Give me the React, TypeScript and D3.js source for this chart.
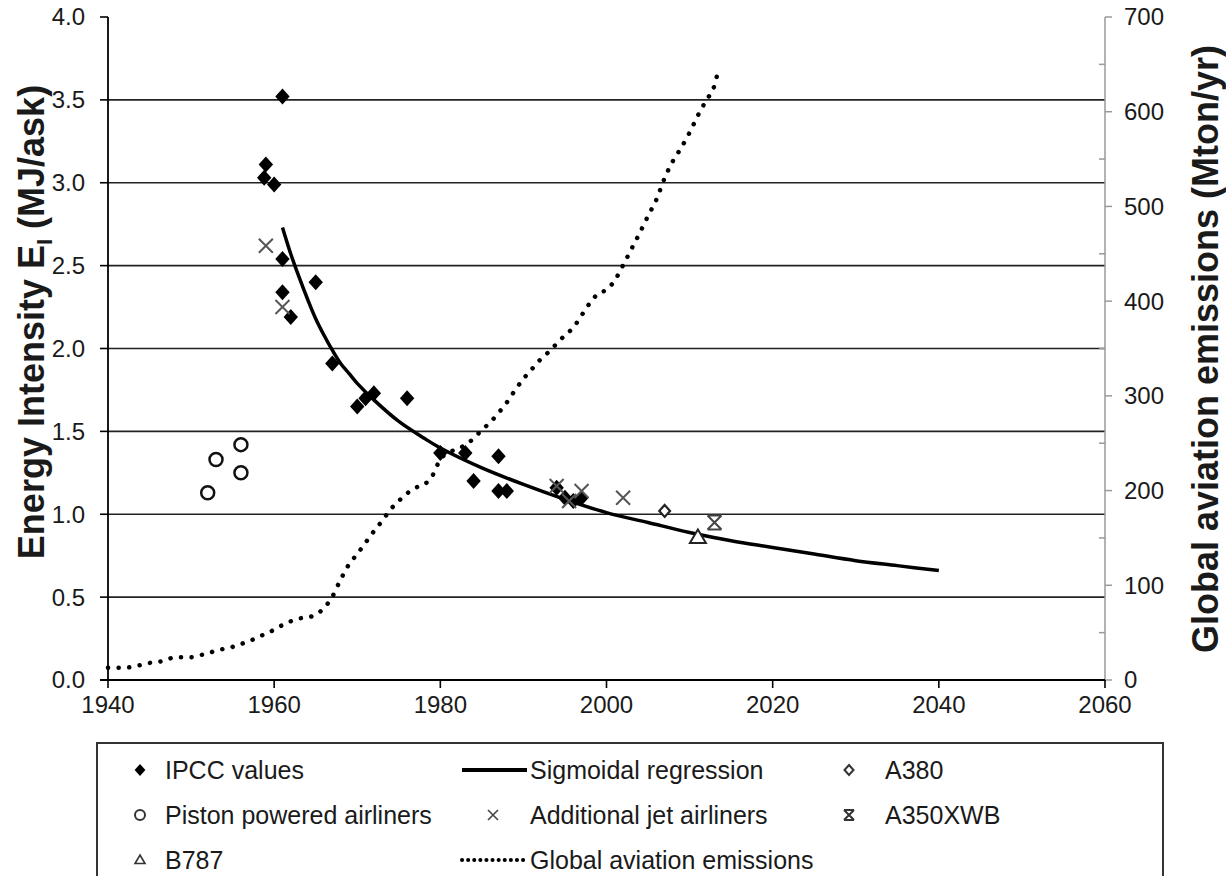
import React from "react";
import * as d3 from "d3";

const xTicks = [1940, 1960, 1980, 2000, 2020, 2040, 2060];
const leftTicks = [0, 0.5, 1, 1.5, 2, 2.5, 3, 3.5, 4];
const rightTicks = [0, 100, 200, 300, 400, 500, 600, 700];
const gridValues = [0.5, 1, 1.5, 2, 2.5, 3, 3.5];

const ipcc: [number, number][] = [
  [1961, 3.52], [1959, 3.11], [1958.8, 3.03], [1960, 2.99], [1961, 2.54], [1961, 2.34],
  [1962, 2.19], [1965, 2.4], [1967, 1.91], [1970, 1.65], [1971, 1.7], [1972, 1.73],
  [1976, 1.7], [1980, 1.37], [1983, 1.37], [1984, 1.2], [1987, 1.35], [1987, 1.14],
  [1988, 1.14], [1994, 1.16], [1995, 1.1], [1996, 1.08], [1997, 1.1],
];
const piston: [number, number][] = [
  [1956, 1.42], [1953, 1.33], [1956, 1.25], [1952, 1.13],
];
const jets: [number, number][] = [
  [1959, 2.62], [1961, 2.25], [1994, 1.17], [1995.5, 1.08], [1997, 1.14], [2002, 1.1],
];
const a380: [number, number][] = [[2007, 1.02]];
const b787: [number, number][] = [[2011, 0.86]];
const a350: [number, number][] = [[2013, 0.95]];

const regression: [number, number][] = [
  [1961, 2.73], [1962, 2.57], [1963, 2.43], [1964, 2.3], [1965, 2.18], [1966, 2.08],
  [1967, 1.99], [1968, 1.91], [1969, 1.85], [1970, 1.79], [1972, 1.69], [1975, 1.56],
  [1978, 1.46], [1980, 1.4], [1985, 1.28], [1990, 1.18], [1995, 1.09], [2000, 1.01],
  [2005, 0.95], [2010, 0.89], [2015, 0.84], [2020, 0.8], [2025, 0.76], [2030, 0.72],
  [2035, 0.69], [2040, 0.66],
];

const emissions: [number, number][] = [
  [1940, 13], [1941, 13], [1942, 13], [1943, 14], [1944, 16], [1945, 18], [1946, 19],
  [1947, 21], [1948, 24], [1949, 24], [1950, 24], [1951, 26], [1952, 28], [1953, 31],
  [1954, 33], [1955, 35], [1956, 38], [1957, 41], [1958, 45], [1959, 49], [1960, 53],
  [1961, 58], [1962, 62], [1963, 65], [1964, 66], [1965, 69], [1966, 76], [1967, 88],
  [1968, 106], [1969, 122], [1970, 133], [1971, 145], [1972, 157], [1973, 168],
  [1974, 180], [1975, 189], [1976, 197], [1977, 203], [1978, 206], [1979, 215],
  [1980, 233], [1981, 240], [1982, 244], [1983, 248], [1984, 255], [1985, 264],
  [1986, 272], [1987, 282], [1988, 293], [1989, 306], [1990, 318], [1991, 328],
  [1992, 338], [1993, 346], [1994, 355], [1995, 364], [1996, 372], [1997, 385],
  [1998, 398], [1999, 408], [2000, 412], [2001, 422], [2002, 438], [2003, 455],
  [2004, 472], [2005, 490], [2006, 507], [2007, 530], [2008, 548], [2009, 562],
  [2010, 578], [2011, 596], [2012, 612], [2013, 628], [2013.4, 642],
];

const FONT = "'Liberation Sans', Arial, sans-serif";
const TXT = "#1a1a1a";

const L = 108, R = 1105, T = 17, B = 680;

function Diamond({ x, y, s = 8, fill = "#000", stroke = "none", sw = 0 }: any) {
  return (
    <path
      d={`M${x},${y - s}L${x + s * 0.9},${y}L${x},${y + s}L${x - s * 0.9},${y}Z`}
      fill={fill}
      stroke={stroke}
      strokeWidth={sw}
    />
  );
}
function Cross({ x, y, s = 7, color = "#555", sw = 2 }: any) {
  return (
    <path
      d={`M${x - s},${y - s}L${x + s},${y + s}M${x - s},${y + s}L${x + s},${y - s}`}
      stroke={color}
      strokeWidth={sw}
      fill="none"
    />
  );
}
function Star({ x, y, s = 7, color = "#444", sw = 2 }: any) {
  return (
    <path
      d={`M${x - s},${y - s}L${x + s},${y + s}M${x - s},${y + s}L${x + s},${y - s}M${x - s},${y - s}L${x + s},${y - s}M${x - s},${y + s}L${x + s},${y + s}`}
      stroke={color}
      strokeWidth={sw}
      fill="none"
    />
  );
}
function Tri({ x, y, s = 8, color = "#222", sw = 2 }: any) {
  return (
    <path
      d={`M${x},${y - s}L${x + s},${y + s * 0.7}L${x - s},${y + s * 0.7}Z`}
      stroke={color}
      strokeWidth={sw}
      fill="#fff"
    />
  );
}

export default function App() {
  const x = d3.scaleLinear().domain([1940, 2060]).range([L, R]);
  const yL = d3.scaleLinear().domain([0, 4]).range([B, T]);
  const yR = d3.scaleLinear().domain([0, 700]).range([B, T]);

  const regLine = d3
    .line<[number, number]>()
    .x((d) => x(d[0]))
    .y((d) => yL(d[1]))
    .curve(d3.curveCatmullRom);
  const emLine = d3
    .line<[number, number]>()
    .x((d) => x(d[0]))
    .y((d) => yR(d[1]))
    .curve(d3.curveMonotoneX);

  const rightMinor = d3.range(50, 700, 100);

  return (
    <svg
      width={1226}
      height={876}
      style={{ position: "absolute", left: 0, top: 0, background: "#fff" }}
      fontFamily={FONT}
    >
      <rect x={0} y={0} width={1226} height={876} fill="#fff" />
      {gridValues.map((v) => (
        <line key={v} x1={L} x2={R} y1={yL(v)} y2={yL(v)} stroke="#222" strokeWidth={1.6} />
      ))}

      {/* right axis */}
      <line x1={R} x2={R} y1={T} y2={B} stroke="#9a9a9a" strokeWidth={1.5} />
      {rightTicks.map((v) => (
        <g key={v}>
          <line x1={R} x2={R + 7} y1={yR(v)} y2={yR(v)} stroke="#9a9a9a" strokeWidth={1.5} />
          <text x={R + 19} y={yR(v)} dy="0.35em" fontSize={24} fill={TXT}>
            {v}
          </text>
        </g>
      ))}
      {rightMinor.map((v) => (
        <line key={v} x1={R - 6} x2={R} y1={yR(v)} y2={yR(v)} stroke="#9a9a9a" strokeWidth={1.5} />
      ))}

      {/* left axis */}
      <line x1={L} x2={L} y1={T} y2={B} stroke="#000" strokeWidth={1.8} />
      {leftTicks.map((v) => (
        <g key={v}>
          <line x1={L - 8} x2={L} y1={yL(v)} y2={yL(v)} stroke="#000" strokeWidth={1.6} />
          <text x={L - 23} y={yL(v)} dy="0.35em" fontSize={24} textAnchor="end" fill={TXT}>
            {v.toFixed(1)}
          </text>
        </g>
      ))}

      {/* bottom axis */}
      <line x1={L - 8} x2={R} y1={B} y2={B} stroke="#000" strokeWidth={1.8} />
      {xTicks.map((v) => (
        <g key={v}>
          <line x1={x(v)} x2={x(v)} y1={B} y2={B + 8} stroke="#000" strokeWidth={1.6} />
          <text x={x(v)} y={B + 33} fontSize={24} textAnchor="middle" fill={TXT}>
            {v}
          </text>
        </g>
      ))}

      {/* emissions dotted line */}
      <path
        d={emLine(emissions) || ""}
        fill="none"
        stroke="#000"
        strokeWidth={4.5}
        strokeDasharray="0.1 10.5"
        strokeLinecap="round"
      />

      {/* regression */}
      <path d={regLine(regression) || ""} fill="none" stroke="#000" strokeWidth={3.5} />

      {/* markers */}
      {piston.map((d, i) => (
        <circle key={"p" + i} cx={x(d[0])} cy={yL(d[1])} r={6.5} fill="none" stroke="#111" strokeWidth={2.5} />
      ))}
      {ipcc.map((d, i) => (
        <Diamond key={"i" + i} x={x(d[0])} y={yL(d[1])} />
      ))}
      {jets.map((d, i) => (
        <Cross key={"j" + i} x={x(d[0])} y={yL(d[1])} />
      ))}
      {a380.map((d, i) => (
        <Diamond key={"a" + i} x={x(d[0])} y={yL(d[1])} s={6} fill="#fff" stroke="#222" sw={2.2} />
      ))}
      {b787.map((d, i) => (
        <Tri key={"b" + i} x={x(d[0])} y={yL(d[1])} />
      ))}
      {a350.map((d, i) => (
        <Star key={"s" + i} x={x(d[0])} y={yL(d[1])} />
      ))}

      {/* axis titles */}
      <text
        transform={`translate(44,322) rotate(-90)`}
        textAnchor="middle"
        fontSize={36}
        fontWeight="bold"
        fill={TXT}
      >
        Energy Intensity E<tspan fontSize={22} dy={8}>I</tspan>
        <tspan dy={-8}> (MJ/ask)</tspan>
      </text>
      <text
        transform={`translate(1218,349) rotate(-90)`}
        textAnchor="middle"
        fontSize={36}
        fontWeight="bold"
        fill={TXT}
      >
        Global aviation emissions (Mton/yr)
      </text>

      {/* legend */}
      <rect x={97} y={743} width={1066} height={160} fill="#fff" stroke="#333" strokeWidth={2} />
      <g fontSize={25} fill={TXT}>
        <Diamond x={140} y={770} s={6} />
        <text x={165} y={770} dy="0.35em">IPCC values</text>
        <line x1={462} x2={527} y1={770} y2={770} stroke="#000" strokeWidth={4} />
        <text x={530} y={770} dy="0.35em">Sigmoidal regression</text>
        <Diamond x={849} y={770} s={5} fill="#fff" stroke="#333" sw={2} />
        <text x={885} y={770} dy="0.35em">A380</text>

        <circle cx={140} cy={815} r={5} fill="none" stroke="#333" strokeWidth={2} />
        <text x={165} y={815} dy="0.35em">Piston powered airliners</text>
        <Cross x={493} y={815} s={5} color="#444" sw={1.6} />
        <text x={530} y={815} dy="0.35em">Additional jet airliners</text>
        <Star x={849} y={815} s={5} color="#333" sw={2} />
        <text x={885} y={815} dy="0.35em">A350XWB</text>

        <Tri x={140} y={860} s={5} color="#333" sw={1.6} />
        <text x={165} y={860} dy="0.35em">B787</text>
        <line x1={462} x2={527} y1={860} y2={860} stroke="#000" strokeWidth={4} strokeDasharray="0.1 6" strokeLinecap="round" />
        <text x={530} y={860} dy="0.35em">Global aviation emissions</text>
      </g>
    </svg>
  );
}
